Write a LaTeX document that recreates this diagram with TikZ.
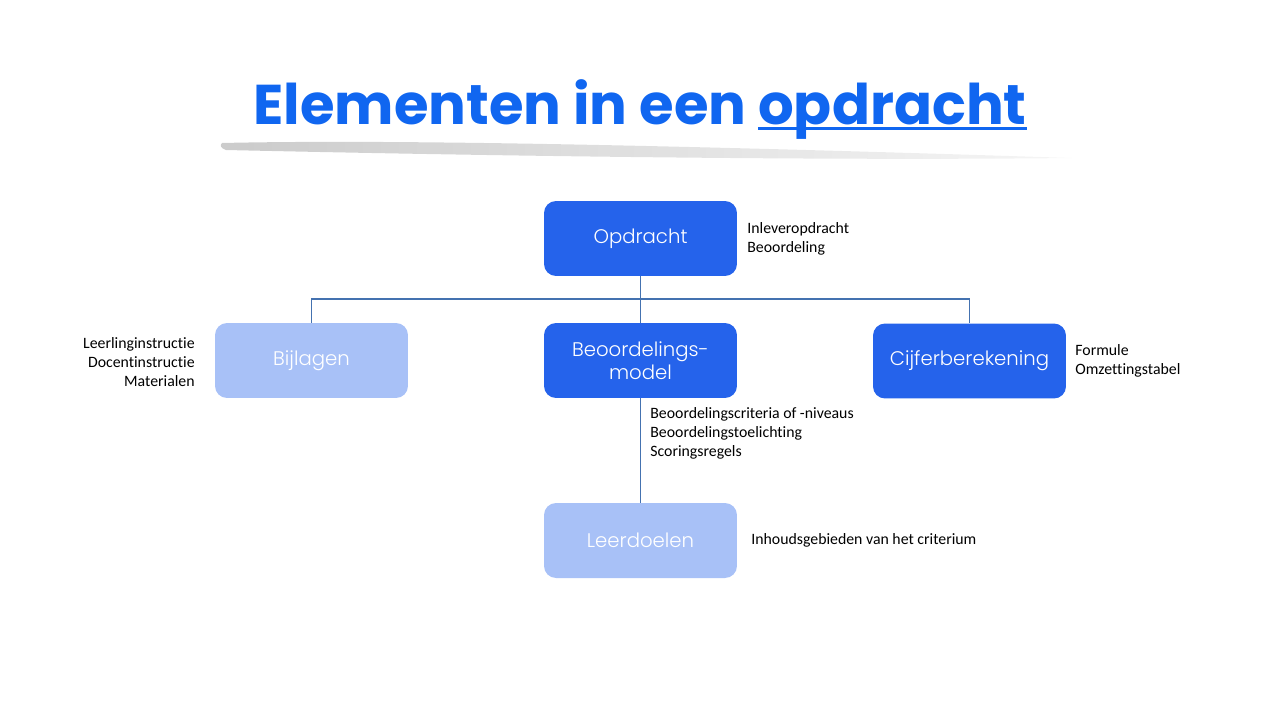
\documentclass[tikz,border=0pt]{standalone}
\usepackage{fontspec}
\setmainfont{Carlito}[Ligatures={NoCommon}]
\newfontfamily\titlefont{Poppins}
\newfontfamily\boxfont{Poppins Light}
\usetikzlibrary{positioning}

\definecolor{titleblue}{RGB}{16,102,240}
\definecolor{darkbox}{RGB}{37,99,235}
\definecolor{lightbox}{RGB}{168,193,247}
\definecolor{linkblue}{RGB}{68,114,176}

\newcommand{\titleunder}[1]{\setbox0\hbox{#1}\rlap{\rule[-3.4pt]{\wd0}{1.7pt}}\box0}

\tikzset{
	darkcell/.style={fill=darkbox, rounded corners=0.24cm, minimum width=3.86cm, minimum height=1.5cm,
		text=white, font=\boxfont\fontsize{11.2}{13.2}\selectfont, align=center, inner sep=0pt},
	lightcell/.style={darkcell, fill=lightbox},
	note/.style={font=\fontsize{9}{10.8}\selectfont, inner sep=0pt},
	link/.style={draw=linkblue, line width=0.6pt}
}

\begin{document}
\begin{tikzpicture}[x=0.02cm, y=-0.02cm]
			%%%%% START %%%%%
			\useasboundingbox (0, 0) rectangle (1280, 720);
			
			\shade[left color=gray!45, right color=gray!8, opacity=0.9]
				(222, 143) .. controls (400, 139) and (700, 146) .. (1072, 158)
				.. controls (800, 161) and (450, 155) .. (226, 150)
				.. controls (220, 148) and (220, 145) .. cycle;
			
			\node[text=titleblue, font=\titlefont\bfseries\fontsize{31.9}{38}\selectfont, anchor=base, inner sep=0pt] (title) at (640, 124)
				{Elementen in een \titleunder{opdracht}};
			
			\node[darkcell] (opdracht) at (640.5, 238.5) {Opdracht};
			\node[lightcell] (bijlagen) at (311.5, 360.5) {Bijlagen};
			\node[darkcell] (model) at (640.5, 360.5) {Beoordelings-\\model};
			\node[darkcell] (cijfer) at (969.5, 361) {Cijferberekening};
			\node[lightcell] (leerdoelen) at (640.5, 540.5) {Leerdoelen};
			
			\coordinate (split) at (640.5, 299);
			\draw[link] (opdracht.south) -- (split);
			\draw[link] (bijlagen.north) |- (split) -| (cijfer.north);
			\draw[link] (split) -- (model.north);
			\draw[link] (model.south) -- (leerdoelen.north);
			
			\node[note, anchor=west, align=left] (opdrnote) at (747, 238.5) {Inleveropdracht\\Beoordeling};
			\node[note, anchor=east, align=right] (bijlnote) at (195, 362) {Leerlinginstructie\\Docentinstructie\\Materialen};
			\node[note, anchor=west, align=left] (cijfnote) at (1075, 360.5) {Formule\\Omzettingstabel};
			\node[note, anchor=west, align=left] (modelnote) at (650, 433.5) {Beoordelingscriteria of -niveaus\\Beoordelingstoelichting\\Scoringsregels};
			\node[note, anchor=west] (doelnote) at (751, 540) {Inhoudsgebieden van het criterium};
			%%%%% END %%%%%
		\end{tikzpicture}
\end{document}
